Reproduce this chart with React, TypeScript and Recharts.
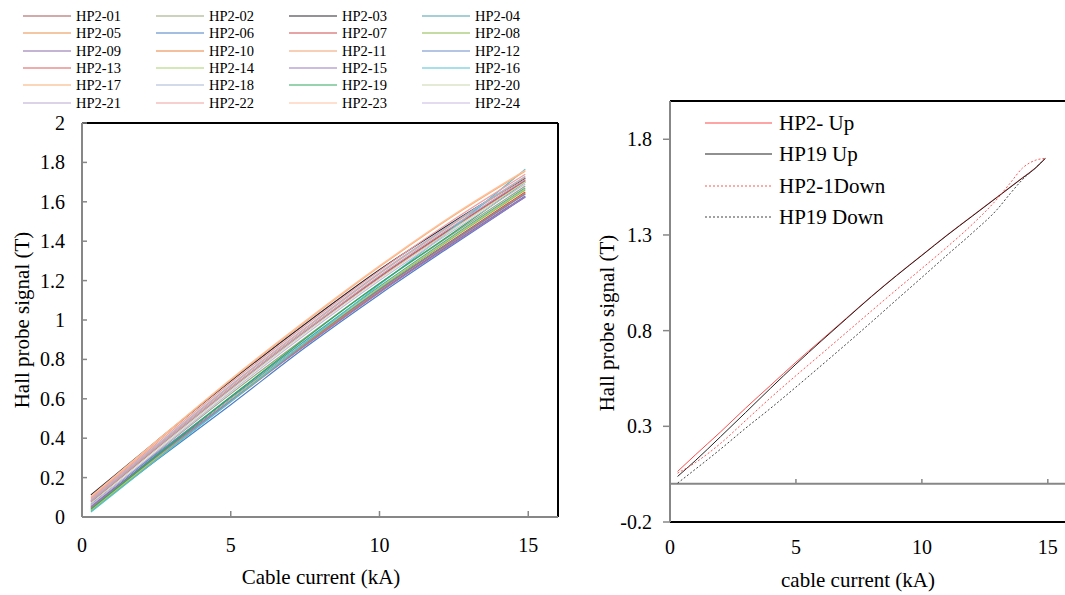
import { LineChart, Line, XAxis, YAxis, ReferenceLine, Legend } from 'recharts';

const FONT = '"Liberation Serif", "Times New Roman", serif';
const AXIS_GREY = '#878787';

// ---- left chart: 24 Hall probes vs cable current ----
const currentKA = [0.3, 2.5, 5, 7.5, 10, 12.5, 14.9];

const probeNames = [
  'HP2-01', 'HP2-02', 'HP2-03', 'HP2-04', 'HP2-05', 'HP2-06',
  'HP2-07', 'HP2-08', 'HP2-09', 'HP2-10', 'HP2-11', 'HP2-12',
  'HP2-13', 'HP2-14', 'HP2-15', 'HP2-16', 'HP2-17', 'HP2-18',
  'HP2-19', 'HP2-20', 'HP2-21', 'HP2-22', 'HP2-23', 'HP2-24',
];

const probeColors = [
  '#a85656', '#9aa77a', '#2a2430', '#4aa0b0', '#e8904a', '#4a7ec8',
  '#d04a4a', '#8ab84a', '#8a6aa8', '#e8803a', '#f0a070', '#6a8ac8',
  '#e05a5a', '#a8d070', '#9a7ac0', '#50c0d8', '#f8b070', '#a8b8d8',
  '#30a860', '#c8d8b0', '#b8a8d0', '#f0a0a0', '#ffc0a0', '#c8b8e0',
];

const hp01 = [0.08, 0.352, 0.655, 0.945, 1.22, 1.475, 1.71];
const hp02 = [0.06, 0.327, 0.625, 0.91, 1.185, 1.44, 1.68];
const hp03 = [0.112, 0.385, 0.69, 0.98, 1.255, 1.5, 1.72];
const hp04 = [0.05, 0.315, 0.61, 0.895, 1.17, 1.43, 1.67];
const hp05 = [0.04, 0.298, 0.585, 0.87, 1.14, 1.4, 1.64];
const hp06 = [0.035, 0.288, 0.57, 0.86, 1.13, 1.385, 1.625];
const hp07 = [0.045, 0.305, 0.595, 0.88, 1.155, 1.41, 1.65];
const hp08 = [0.03, 0.295, 0.59, 0.88, 1.16, 1.42, 1.66];
const hp09 = [0.055, 0.311, 0.595, 0.875, 1.145, 1.395, 1.63];
const hp10 = [0.045, 0.303, 0.59, 0.875, 1.15, 1.405, 1.645];
const hp11 = [0.085, 0.359, 0.665, 0.955, 1.235, 1.49, 1.725];
const hp12 = [0.065, 0.321, 0.605, 0.885, 1.155, 1.405, 1.64];
const hp13 = [0.075, 0.347, 0.65, 0.94, 1.215, 1.47, 1.705];
const hp14 = [0.035, 0.3, 0.595, 0.885, 1.165, 1.425, 1.665];
const hp15 = [0.05, 0.306, 0.59, 0.87, 1.14, 1.39, 1.625];
const hp16 = [0.025, 0.29, 0.585, 0.885, 1.18, 1.47, 1.765];
const hp17 = [0.1, 0.381, 0.695, 0.99, 1.27, 1.53, 1.755];
const hp18 = [0.09, 0.364, 0.67, 0.96, 1.24, 1.495, 1.73];
const hp19 = [0.04, 0.31, 0.61, 0.905, 1.185, 1.445, 1.7];
const hp20 = [0.07, 0.342, 0.645, 0.935, 1.21, 1.465, 1.7];
const hp21 = [0.08, 0.352, 0.655, 0.945, 1.225, 1.48, 1.715];
const hp22 = [0.095, 0.372, 0.68, 0.97, 1.25, 1.51, 1.74];
const hp23 = [0.105, 0.386, 0.7, 0.995, 1.275, 1.535, 1.76];
const hp24 = [0.06, 0.332, 0.635, 0.925, 1.2, 1.455, 1.69];

const probeSeries = [
  hp01, hp02, hp03, hp04, hp05, hp06, hp07, hp08, hp09, hp10, hp11, hp12,
  hp13, hp14, hp15, hp16, hp17, hp18, hp19, hp20, hp21, hp22, hp23, hp24,
];

const leftYTicks = [0, 0.2, 0.4, 0.6, 0.8, 1, 1.2, 1.4, 1.6, 1.8, 2];
const xTicks = [0, 5, 10, 15];

// ---- right chart: up / down ramps for HP2 and HP19 ----
const rampKA = [0.3, 1, 2, 3, 4, 5, 6, 7, 8, 9, 10, 11, 12, 13, 13.5, 14, 14.5, 14.9];
const hp2Up = [0.064, 0.15, 0.27, 0.395, 0.515, 0.635, 0.75, 0.865, 0.98, 1.09, 1.195, 1.3, 1.4, 1.5, 1.55, 1.6, 1.65, 1.7];
const hp19Up = [0.038, 0.12, 0.245, 0.372, 0.5, 0.625, 0.745, 0.862, 0.978, 1.088, 1.193, 1.298, 1.398, 1.498, 1.548, 1.598, 1.648, 1.7];
const hp2Down = [0.055, 0.11, 0.21, 0.33, 0.45, 0.565, 0.677, 0.79, 0.903, 1.015, 1.125, 1.237, 1.355, 1.49, 1.57, 1.65, 1.69, 1.7];
const hp19Down = [0.003, 0.075, 0.18, 0.29, 0.395, 0.505, 0.617, 0.73, 0.845, 0.962, 1.078, 1.195, 1.31, 1.435, 1.515, 1.59, 1.65, 1.7];
const rightYTicks = [-0.2, 0.3, 0.8, 1.3, 1.8];

const rampNames = ['HP2- Up', 'HP19 Up', 'HP2-1Down', 'HP19 Down'];
const rampColors = ['#ff4a4a', '#222222', '#ff5555', '#444444'];
const rampDash = ['', '', '2 2', '2 2'];

const leftData = currentKA.map((x, i) => {
  const row: Record<string, number> = { x };
  probeSeries.forEach((s, k) => { row[probeNames[k]] = s[i]; });
  return row;
});

const rightData = rampKA.map((x, i) => ({
  x,
  up2: hp2Up[i],
  up19: hp19Up[i],
  down2: hp2Down[i],
  down19: hp19Down[i],
}));
const rampKeys = ['up2', 'up19', 'down2', 'down19'];

const tickText = { fontFamily: FONT, fontSize: 20, fill: '#000' };

// left chart ticks point into the plot
const LeftYTick = ({ x, y, payload }: any) => (
  <g>
    <line x1={x} x2={x + 5} y1={y} y2={y} stroke={AXIS_GREY} strokeWidth={1.5} />
    <text x={x - 17} y={y} dy="0.35em" textAnchor="end" {...tickText}>{payload.value}</text>
  </g>
);

const LeftXTick = ({ x, y, payload }: any) => (
  <g>
    <line x1={x} x2={x} y1={y} y2={y - 6} stroke={AXIS_GREY} strokeWidth={1.5} />
    <text x={x} y={y + 28} dy="0.35em" textAnchor="middle" {...tickText}>{payload.value}</text>
  </g>
);

// right chart: y ticks outward, x labels below the frame
const RightYTick = ({ x, y, payload }: any) => (
  <g>
    <line x1={x - 7} x2={x} y1={y} y2={y} stroke={AXIS_GREY} strokeWidth={1.5} />
    <text x={x - 18} y={y} dy="0.35em" textAnchor="end" {...tickText}>{payload.value}</text>
  </g>
);

const RightXTick = ({ x, y, payload }: any) => (
  <text x={x} y={y + 25} dy="0.35em" textAnchor="middle" {...tickText}>{payload.value}</text>
);

const ProbeLegend = () => (
  <div style={{ position: 'relative', width: 560, height: 115, fontFamily: FONT, fontSize: 14.5 }}>
    {probeNames.map((name, i) => {
      const col = i % 4;
      const row = Math.floor(i / 4);
      return (
        <div
          key={name}
          style={{ position: 'absolute', left: 23 + col * 133, top: 16 + row * 17.3 - 9, height: 18, display: 'flex', alignItems: 'center' }}
        >
          <svg width={48} height={4}>
            <line x1={0} x2={48} y1={2} y2={2} stroke={probeColors[i]} strokeWidth={1.2} />
          </svg>
          <span style={{ marginLeft: 5, lineHeight: '18px' }}>{name}</span>
        </div>
      );
    })}
  </div>
);

const RampLegend = () => (
  <div style={{ position: 'relative', width: 300, height: 130, fontFamily: FONT, fontSize: 21 }}>
    {rampNames.map((name, i) => (
      <div
        key={name}
        style={{ position: 'absolute', left: 0, top: i * 31.3 - 12, height: 24, display: 'flex', alignItems: 'center' }}
      >
        <svg width={67} height={4}>
          <line x1={0} x2={67} y1={2} y2={2} stroke={rampColors[i]} strokeWidth={1.2} strokeDasharray={rampDash[i] || undefined} />
        </svg>
        <span style={{ marginLeft: 7, lineHeight: '24px' }}>{name}</span>
      </div>
    ))}
  </div>
);

const titleStyle = { position: 'absolute' as const, fontFamily: FONT, fontSize: 21, whiteSpace: 'nowrap' as const, color: '#000' };

export default function App() {
  return (
    <div style={{ position: 'fixed', left: 0, top: 0, width: 1065, height: 595, overflow: 'hidden', background: '#fff' }}>
      {/* Left: all probes */}
      <div style={{ position: 'absolute', left: 0, top: 0 }}>
        <LineChart width={600} height={595} data={leftData} margin={{ top: 123, right: 42, bottom: 38, left: 22 }}>
          <XAxis
            type="number"
            dataKey="x"
            domain={[0, 16]}
            ticks={xTicks}
            height={40}
            tickSize={0}
            tickMargin={0}
            tickLine={false}
            axisLine={{ stroke: AXIS_GREY, strokeWidth: 2 }}
            tick={<LeftXTick />}
          />
          <YAxis
            type="number"
            domain={[0, 2]}
            ticks={leftYTicks}
            width={60}
            tickSize={0}
            tickMargin={0}
            tickLine={false}
            axisLine={{ stroke: AXIS_GREY, strokeWidth: 2 }}
            tick={<LeftYTick />}
          />
          <ReferenceLine y={2} stroke="#000" strokeWidth={2} />
          <ReferenceLine x={16} stroke="#000" strokeWidth={2} />
          {probeNames.map((name, i) => (
            <Line
              key={name}
              type="monotone"
              dataKey={name}
              stroke={probeColors[i]}
              strokeWidth={1.2}
              dot={false}
              isAnimationActive={false}
            />
          ))}
          <Legend
            layout="horizontal"
            verticalAlign="middle"
            align="center"
            wrapperStyle={{ top: 0, left: 0, width: 560 }}
            content={() => <ProbeLegend />}
          />
        </LineChart>
        <div style={{ ...titleStyle, left: 22, top: 320, transform: 'translate(-50%, -50%) rotate(-90deg)' }}>
          Hall probe signal (T)
        </div>
        <div style={{ ...titleStyle, left: 321, top: 577, transform: 'translate(-50%, -50%)' }}>
          Cable current (kA)
        </div>
      </div>

      {/* Right: up/down ramps */}
      <div style={{ position: 'absolute', left: 560, top: 0 }}>
        <LineChart width={518} height={595} data={rightData} margin={{ top: 101, right: 5, bottom: 33, left: 50 }}>
          <XAxis
            type="number"
            dataKey="x"
            domain={[0, 16]}
            ticks={xTicks}
            height={40}
            tickSize={0}
            tickMargin={0}
            tickLine={false}
            axisLine={false}
            tick={<RightXTick />}
          />
          <YAxis
            type="number"
            domain={[-0.2, 2.0]}
            ticks={rightYTicks}
            width={60}
            tickSize={0}
            tickMargin={0}
            tickLine={false}
            axisLine={{ stroke: AXIS_GREY, strokeWidth: 2 }}
            tick={<RightYTick />}
          />
          <ReferenceLine y={2.0} stroke="#000" strokeWidth={2} />
          <ReferenceLine y={-0.2} stroke="#000" strokeWidth={2} />
          <ReferenceLine y={0} stroke={AXIS_GREY} strokeWidth={2} />
          {[5, 10, 15].map((t) => (
            <ReferenceLine key={t} segment={[{ x: t, y: 0 }, { x: t, y: 0.025 }]} stroke={AXIS_GREY} strokeWidth={1.5} />
          ))}
          {rampKeys.map((k, i) => (
            <Line
              key={k}
              type="monotone"
              dataKey={k}
              name={rampNames[i]}
              stroke={rampColors[i]}
              strokeWidth={1}
              strokeDasharray={rampDash[i] || undefined}
              dot={false}
              isAnimationActive={false}
            />
          ))}
          <Legend
            layout="horizontal"
            verticalAlign="middle"
            align="center"
            wrapperStyle={{ top: 123, left: 145, width: 300 }}
            content={() => <RampLegend />}
          />
        </LineChart>
        <div style={{ ...titleStyle, left: 47, top: 323, transform: 'translate(-50%, -50%) rotate(-90deg)' }}>
          Hall probe signal (T)
        </div>
        <div style={{ ...titleStyle, left: 298, top: 580, transform: 'translate(-50%, -50%)' }}>
          cable current (kA)
        </div>
      </div>
    </div>
  );
}
